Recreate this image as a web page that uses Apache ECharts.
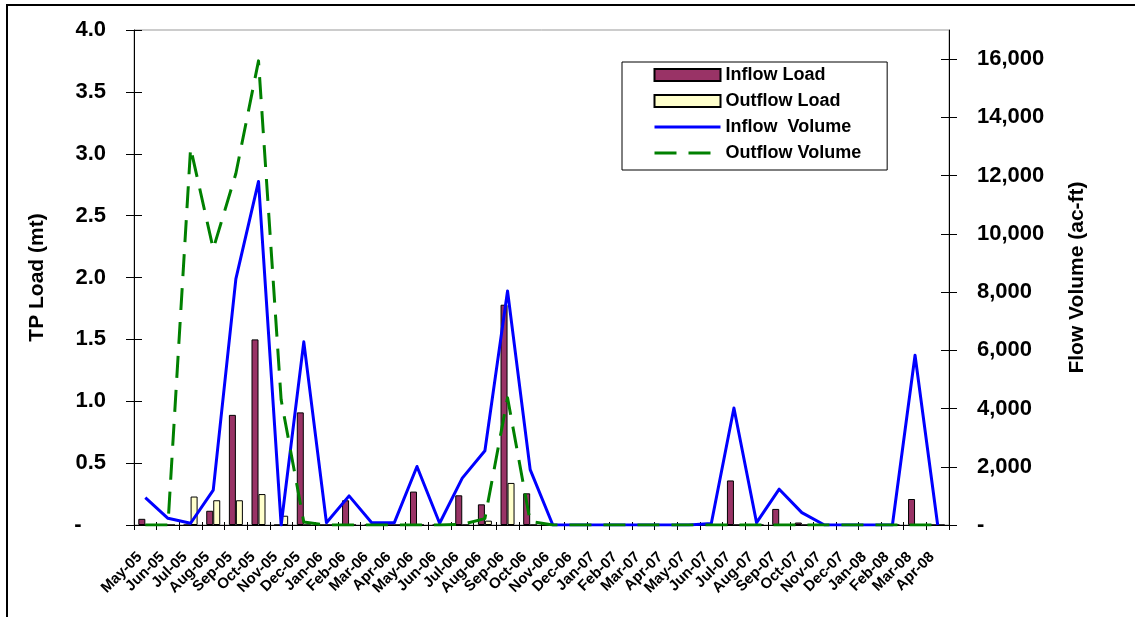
<!DOCTYPE html>
<html><head><meta charset="utf-8">
<script src="https://cdn.jsdelivr.net/npm/echarts@6/dist/echarts.min.js"></script>
<style>html,body{margin:0;padding:0;background:#fff}#c{width:1135px;height:617px}</style>
</head><body><div id="c"></div>
<script>
const months = ['May-05','Jun-05','Jul-05','Aug-05','Sep-05','Oct-05','Nov-05','Dec-05',
  'Jan-06','Feb-06','Mar-06','Apr-06','May-06','Jun-06','Jul-06','Aug-06','Sep-06','Oct-06','Nov-06','Dec-06',
  'Jan-07','Feb-07','Mar-07','Apr-07','May-07','Jun-07','Jul-07','Aug-07','Sep-07','Oct-07','Nov-07','Dec-07',
  'Jan-08','Feb-08','Mar-08','Apr-08'];
const inflowLoad = [0.05,0,0,0.115,0.89,1.5,0,0.91,0,0.2,0,0,0.27,0,0.24,0.167,1.78,0.256,0,0,
  0,0,0,0,0,0,0.36,0,0.13,0.02,0,0,0,0,0.21,0];
const outflowLoad = [0,0,0.23,0.2,0.2,0.25,0.075,0,0,0,0,0,0,0,0,0.035,0.34,0,0,0,
  0,0,0,0,0,0,0,0,0,0,0,0,0,0,0,0];
const inflowVolume = [940,230,60,1200,8450,11800,0,6290,80,1000,80,80,2010,60,1610,2550,8040,1900,0,0,
  0,0,0,0,0,50,4020,80,1230,425,0,0,0,0,5830,0];
const outflowVolume = [0,0,12950,9480,12070,15940,4300,100,0,0,0,0,0,0,20,220,4370,120,0,0,
  0,0,0,0,0,0,0,0,0,0,0,0,0,0,0,0];
const loadTicks = [0,0.5,1,1.5,2,2.5,3,3.5,4];
const volumeTicks = [0,2000,4000,6000,8000,10000,12000,14000,16000];

const FONT = '"Liberation Sans", Arial, sans-serif';
const lbl = {fontFamily: FONT, fontWeight: 'bold', color: '#000'};

const chart = echarts.init(document.getElementById('c'), null, {renderer: 'canvas'});
chart.setOption({
  animation: false,
  backgroundColor: '#fff',
  graphic: [{type: 'rect', shape: {x: 7, y: 5, width: 1140, height: 620},
    style: {fill: 'none', stroke: '#000', lineWidth: 2}, silent: true}],
  grid: {left: 134, right: 186, top: 30, bottom: 92, show: true, borderColor: '#999', borderWidth: 1},
  legend: {
    orient: 'vertical', left: 622, top: 62,
    padding: [4, 26, 8, 31], borderColor: '#000', borderWidth: 1,
    itemWidth: 66, itemHeight: 12, itemGap: 8,
    lineStyle: {width: 3},
    textStyle: Object.assign({fontSize: 18, lineHeight: 18}, lbl),
    data: [
      {name: 'Inflow Load', icon: 'rect'},
      {name: 'Outflow Load', icon: 'rect'},
      {name: 'Inflow  Volume'},
      {name: 'Outflow Volume'}
    ]
  },
  xAxis: [
    {type: 'category', data: months, position: 'bottom',
      axisLine: {lineStyle: {color: '#000', width: 1}},
      axisTick: {show: true, length: 5, interval: 0, lineStyle: {color: '#000'}},
      axisLabel: Object.assign({rotate: 45, interval: 0, fontSize: 15, margin: 24, padding: [0, 8, 0, 0]}, lbl),
      splitLine: {show: false}},
    {type: 'category', data: months, position: 'bottom',
      axisLine: {show: false},
      axisTick: {show: true, inside: true, length: 3, interval: 0, lineStyle: {color: '#000'}},
      axisLabel: {show: false}, splitLine: {show: false}}
  ],
  yAxis: [
    {type: 'value', position: 'left', min: 0, max: 4, interval: 0.5,
      axisLine: {show: true, lineStyle: {color: '#000'}},
      axisTick: {show: true, length: 8, customValues: loadTicks, lineStyle: {color: '#000'}},
      axisLabel: Object.assign({fontSize: 22, margin: 28, customValues: loadTicks,
        formatter: v => v === 0 ? '-    ' : v.toFixed(1)}, lbl),
      splitLine: {show: false},
      name: 'TP Load (mt)', nameLocation: 'middle', nameGap: 86,
      nameTextStyle: Object.assign({fontSize: 21}, lbl)},
    {type: 'value', position: 'right', min: 0, max: 17000, interval: 2000,
      axisLine: {show: true, lineStyle: {color: '#000'}},
      axisTick: {show: true, length: 8, customValues: volumeTicks, lineStyle: {color: '#000'}},
      axisLabel: Object.assign({fontSize: 22, margin: 28, customValues: volumeTicks,
        formatter: v => v === 0 ? '-' : v.toLocaleString('en-US')}, lbl),
      splitLine: {show: false},
      name: 'Flow Volume (ac-ft)', nameLocation: 'middle', nameGap: 118,
      nameTextStyle: Object.assign({fontSize: 21}, lbl)},
    {type: 'value', position: 'left', min: 0, max: 4, interval: 0.5,
      axisLine: {show: false},
      axisTick: {show: true, inside: true, length: 8, customValues: loadTicks, lineStyle: {color: '#000'}},
      axisLabel: {show: false}, splitLine: {show: false}},
    {type: 'value', position: 'right', min: 0, max: 17000, interval: 2000,
      axisLine: {show: false},
      axisTick: {show: true, inside: true, length: 8, customValues: volumeTicks, lineStyle: {color: '#000'}},
      axisLabel: {show: false}, splitLine: {show: false}}
  ],
  series: [
    {name: 'Inflow Load', type: 'bar', yAxisIndex: 0, data: inflowLoad, barWidth: 7, barGap: '0%',
      itemStyle: {color: '#993366', borderColor: '#000', borderWidth: 1}},
    {name: 'Outflow Load', type: 'bar', yAxisIndex: 0, data: outflowLoad, barWidth: 7, barGap: '0%',
      itemStyle: {color: '#FFFFCC', borderColor: '#000', borderWidth: 1}},
    {name: 'Inflow  Volume', type: 'line', yAxisIndex: 1, data: inflowVolume, symbol: 'none',
      lineStyle: {color: '#0000FF', width: 3, join: 'round'},
      itemStyle: {color: 'rgba(0,0,0,0)', borderWidth: 0}},
    {name: 'Outflow Volume', type: 'line', yAxisIndex: 1, data: outflowVolume, symbol: 'none',
      lineStyle: {color: '#008000', width: 3, type: [22, 12], join: 'round'},
      itemStyle: {color: 'rgba(0,0,0,0)', borderWidth: 0}}
  ]
});
</script></body></html>
